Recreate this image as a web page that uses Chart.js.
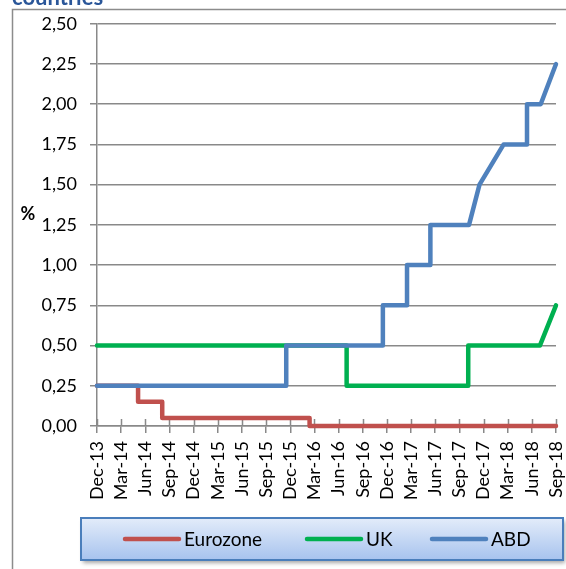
<!DOCTYPE html>
<html>
<head>
<meta charset="utf-8">
<script src="https://cdn.jsdelivr.net/npm/chart.js@4"></script>
<style>
  html, body { margin: 0; padding: 0; background: #fff; overflow: hidden; }
  #wrap { position: relative; width: 566px; height: 569px; }
</style>
</head>
<body>
<div id="wrap"><canvas id="c" width="566" height="569"></canvas></div>
<script>
// Quarterly axis labels (axis runs in months counted from Dec-13)
const tickLabels = ['Dec-13','Mar-14','Jun-14','Sep-14','Dec-14','Mar-15','Jun-15','Sep-15',
  'Dec-15','Mar-16','Jun-16','Sep-16','Dec-16','Mar-17','Jun-17','Sep-17','Dec-17','Mar-18',
  'Jun-18','Sep-18'];

// Policy rates (%), each point placed at months since Dec-13
const eurozoneMonths = [0, 5.1, 5.1, 8.1, 8.1, 26.4, 26.4, 57];
const eurozoneRates  = [0.25, 0.25, 0.15, 0.15, 0.05, 0.05, 0.00, 0.00];

const ukMonths = [0, 31.0, 31.0, 46.1, 46.1, 55.0, 57];
const ukRates  = [0.50, 0.50, 0.25, 0.25, 0.50, 0.50, 0.75];

const abdMonths = [0, 23.5, 23.5, 35.5, 35.5, 38.5, 38.5, 41.4, 41.4, 46.2, 47.5, 50.5, 53.4, 53.4, 55.1, 57];
const abdRates  = [0.25, 0.25, 0.50, 0.50, 0.75, 0.75, 1.00, 1.00, 1.25, 1.25, 1.50, 1.75, 1.75, 2.00, 2.00, 2.25];

const seriesNames = ['Eurozone', 'UK', 'ABD'];

const FONT = 'Lato, "Open Sans", sans-serif';
const AXIS_GREY = '#898989';

function toPoints(months, rates) {
  return months.map((m, i) => ({ x: m, y: rates[i] }));
}

function lineDataset(label, color, months, rates, order) {
  return {
    label,
    data: toPoints(months, rates),
    borderColor: color,
    backgroundColor: color,
    borderWidth: 4.5,
    borderCapStyle: 'round',
    borderJoinStyle: 'round',
    pointRadius: 0,
    tension: 0,
    clip: false,
    order
  };
}

// Frame, heading, crossing tick marks, unit label and boxed legend
const decorations = {
  id: 'decorations',
  beforeDraw(chart) {
    const ctx = chart.ctx;
    ctx.save();
    ctx.fillStyle = '#fff';
    ctx.fillRect(0, 0, chart.width, chart.height);
    ctx.strokeStyle = '#8c8c8c';
    ctx.lineWidth = 1.5;
    ctx.beginPath();
    ctx.moveTo(12.5, chart.height + 2);
    ctx.lineTo(12.5, 9.5);
    ctx.lineTo(chart.width + 2, 9.5);
    ctx.stroke();
    ctx.fillStyle = '#2A5699';
    ctx.font = 'bold 22px ' + FONT;
    ctx.textBaseline = 'alphabetic';
    ctx.textAlign = 'left';
    ctx.fillText('countries', 12, 5);
    ctx.restore();
  },
  beforeDatasetsDraw(chart) {
    // upper half of the crossing tick marks on the category axis
    const ctx = chart.ctx;
    const xs = chart.scales.x;
    const yBase = chart.chartArea.bottom;
    ctx.save();
    ctx.strokeStyle = AXIS_GREY;
    ctx.lineWidth = 1.5;
    ctx.beginPath();
    xs.ticks.forEach(t => {
      const px = Math.round(xs.getPixelForValue(t.value)) + 0.5;
      ctx.moveTo(px, yBase - 7);
      ctx.lineTo(px, yBase);
    });
    ctx.stroke();
    ctx.restore();
  },
  afterDraw(chart) {
    const ctx = chart.ctx;
    ctx.save();
    // unit label
    ctx.fillStyle = '#000';
    ctx.font = 'bold 18px ' + FONT;
    ctx.textAlign = 'center';
    ctx.textBaseline = 'middle';
    ctx.fillText('%', 28, 214);

    // legend box
    const bx = 81, by = 518, bw = 482, bh = 42;
    ctx.save();
    ctx.shadowColor = 'rgba(0,0,0,0.35)';
    ctx.shadowOffsetX = 2;
    ctx.shadowOffsetY = 3;
    ctx.shadowBlur = 4;
    const grad = ctx.createLinearGradient(0, by, 0, by + bh);
    grad.addColorStop(0, '#E3ECFA');
    grad.addColorStop(1, '#A7C3EE');
    ctx.fillStyle = grad;
    ctx.fillRect(bx, by, bw, bh);
    ctx.restore();
    ctx.strokeStyle = '#4A7EBB';
    ctx.lineWidth = 2;
    ctx.strokeRect(bx, by, bw, bh);

    const starts = [125, 307, 432];
    const cy = 539;
    ctx.font = '19px ' + FONT;
    ctx.textAlign = 'left';
    ctx.textBaseline = 'middle';
    chart.data.datasets.forEach((ds, i) => {
      const x0 = starts[i], x1 = x0 + 54;
      ctx.strokeStyle = ds.borderColor;
      ctx.lineWidth = 4.5;
      ctx.lineCap = 'round';
      ctx.beginPath();
      ctx.moveTo(x0, cy);
      ctx.lineTo(x1, cy);
      ctx.stroke();
      ctx.fillStyle = '#000';
      ctx.fillText(ds.label, x1 + 5, cy + 1);
    });
    ctx.restore();
  }
};

new Chart(document.getElementById('c'), {
  type: 'line',
  data: {
    datasets: [
      lineDataset(seriesNames[0], '#C0504D', eurozoneMonths, eurozoneRates, 2),
      lineDataset(seriesNames[1], '#00B050', ukMonths, ukRates, 1),
      lineDataset(seriesNames[2], '#4F81BD', abdMonths, abdRates, 0)
    ]
  },
  options: {
    responsive: false,
    devicePixelRatio: 1,
    animation: false,
    events: [],
    layout: { padding: { top: 23, right: 10, bottom: 59, left: 0 } },
    plugins: {
      legend: { display: false },
      tooltip: { enabled: false },
      title: { display: false }
    },
    scales: {
      x: {
        type: 'linear',
        min: 0,
        max: 57,
        afterFit(scale) {
          scale.height = 84;
          scale.paddingLeft = 0;
          scale.paddingRight = 0;
        },
        ticks: {
          stepSize: 3,
          autoSkip: false,
          maxRotation: 90,
          minRotation: 90,
          padding: 8,
          color: '#000',
          font: { family: FONT, size: 18 },
          callback: (v) => tickLabels[Math.round(v / 3)]
        },
        grid: {
          drawOnChartArea: false,
          drawTicks: true,
          tickLength: 7,
          color: AXIS_GREY,
          lineWidth: 1.5
        },
        border: { color: AXIS_GREY, width: 1.5 }
      },
      y: {
        min: 0,
        max: 2.5,
        afterFit(scale) { scale.width = 97; },
        ticks: {
          stepSize: 0.25,
          padding: 13,
          color: '#000',
          font: { family: FONT, size: 18 },
          callback: (v) => Number(v).toFixed(2).replace('.', ',')
        },
        grid: {
          color: AXIS_GREY,
          lineWidth: 1.5,
          tickLength: 7
        },
        border: { color: AXIS_GREY, width: 1.5 }
      }
    }
  },
  plugins: [decorations]
});
</script>
</body>
</html>
